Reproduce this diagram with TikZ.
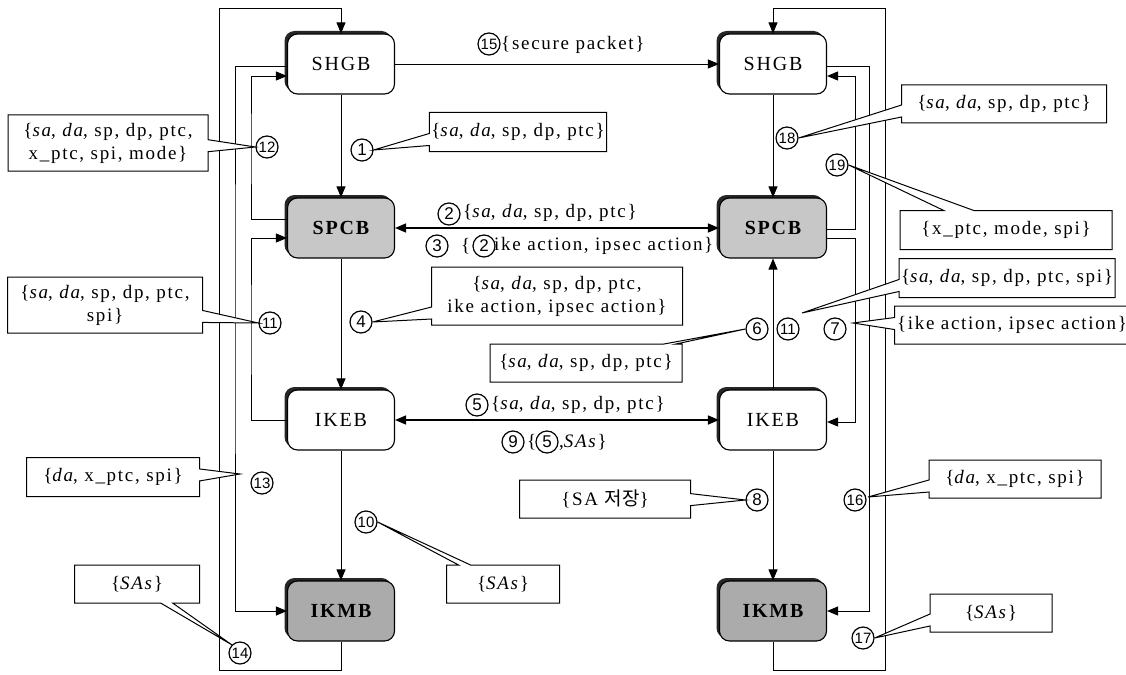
\documentclass[tikz,border=0pt]{standalone}
\usepackage{fontspec}
\setmainfont[LetterSpace=9]{Liberation Serif}
\newfontfamily\numfont{Liberation Sans}
\newfontfamily\krfont{Noto Sans CJK KR}
\usetikzlibrary{arrows.meta,shapes.callouts,shadows}
\newcommand\vsa{\textit{sa}}
\newcommand\vda{\textit{da}}
\newcommand\vSAs{\textit{SAs}}
\tikzset{
  blk/.style={draw, line width=1.1pt, rounded corners=10pt, minimum width=107pt, minimum height=60pt,
    drop shadow={shadow xshift=-3pt, shadow yshift=3pt, fill=black!85, opacity=1}},
  wblk/.style={blk, fill=white, font=\fontsize{20}{22}\selectfont},
  gblk/.style={blk, fill=black!22, font=\fontsize{20}{22}\selectfont\bfseries},
  dblk/.style={blk, fill=black!33, font=\fontsize{20}{22}\selectfont\bfseries},
  arr/.style={-{Triangle[length=11pt,width=9pt]}, line width=0.9pt},
  darr/.style={{Triangle[length=11pt,width=9pt]}-{Triangle[length=11pt,width=9pt]}, line width=1.6pt},
  lbl/.style={font=\fontsize{19}{23}\selectfont, inner sep=1pt},
  cn/.style={circle, draw, line width=1.2pt, inner sep=0pt, minimum size=22pt, font=\numfont\fontsize{17}{17}\selectfont},
  cnn/.style={cn, font=\numfont\fontsize{15}{15}\selectfont},
  co/.style={rectangle callout, draw, line width=1pt, fill=white, font=\fontsize{19}{23}\selectfont,
    inner sep=2pt, callout pointer width=12pt, align=center},
}
\begin{document}
\begin{tikzpicture}[x=1pt,y=-1pt]
\useasboundingbox (0,0) rectangle (1126,674);
\fill[white] (0,0) rectangle (1126,674);

% coordinates for routing
\coordinate (lbot) at (219,670);
\coordinate (ltop) at (219,8);
\coordinate (lm) at (235,300);
\coordinate (li) at (251,150);
\coordinate (li2) at (251,330);
\coordinate (rbot) at (885,670);
\coordinate (rtop) at (885,8);
\coordinate (rm) at (869,300);
\coordinate (ri) at (855,150);
\coordinate (ri2) at (855,330);

% blocks
\node[wblk] (lSHGB) at (341,64) {SHGB};
\node[gblk] (lSPCB) at (341,228) {SPCB};
\node[wblk] (lIKEB) at (341,420) {IKEB};
\node[dblk] (lIKMB) at (341,611) {IKMB};
\node[wblk] (rSHGB) at (773,64) {SHGB};
\node[gblk] (rSPCB) at (773,228) {SPCB};
\node[wblk] (rIKEB) at (773,420) {IKEB};
\node[dblk] (rIKMB) at (773,611) {IKMB};

% main connectors
\draw[arr] (lSHGB) -- (rSHGB);
\draw[darr] (lSPCB) -- (rSPCB);
\draw[darr] (lIKEB) -- (rIKEB);
\draw[arr] (lSHGB.south) -- (lSPCB.north);
\draw[arr] (lSPCB.south) -- (lIKEB.north);
\draw[arr] (lIKEB.south) -- (lIKMB.north);
\draw[arr] (rSHGB.south) -- (rSPCB.north);
\draw[arr] (rIKEB.north) -- (rSPCB.south);
\draw[arr] (rIKEB.south) -- (rIKMB.north);

% left routing
\draw[arr] (lIKMB.south) |- (lbot) -- (ltop) -| (lSHGB.north);
\draw[arr] ([yshift=-2pt]lSHGB.west) -| (lm) |- (lIKMB.west);
\draw[arr] ([yshift=9pt]lSPCB.west) -| (li) |- ([yshift=-12pt]lSHGB.west);
\draw[arr] (lIKEB.west) -| (li2) |- ([yshift=-10pt]lSPCB.west);
% right routing
\draw[arr] (rIKMB.south) |- (rbot) -- (rtop) -| (rSHGB.north);
\draw[arr] ([yshift=-2pt]rSHGB.east) -| (rm) |- (rIKMB.east);
\draw[arr] ([yshift=-1pt]rSPCB.east) -| (ri) |- ([yshift=-12pt]rSHGB.east);
\draw[arr] ([yshift=-10pt]rSPCB.east) -| (ri2) |- ([yshift=-2pt]rIKEB.east);

% inline labels
\node[cnn] (n15) at (489,44) {15};
\node[lbl, anchor=west] (t15) at (500,45) {\{secure packet\}};
\node[cn] (n2) at (449,214) {2};
\node[lbl, anchor=west] (t2) at (462,213) {\{\vsa, \vda, sp, dp, ptc\}};
\node[cn] (n3) at (437,246) {3};
\node[lbl, anchor=west] (t3a) at (460,246) {\{};
\node[cn] (n2b) at (484,246) {2};
\node[lbl, anchor=west] (t3b) at (493,246) {ike action, ipsec action\}};
\node[cn] (n5) at (477,405) {5};
\node[lbl, anchor=west] (t5) at (490,405) {\{\vsa, \vda, sp, dp, ptc\}};
\node[cn] (n9) at (513,442) {9};
\node[lbl, anchor=west] (t9a) at (526,442) {\{};
\node[cn] (n5b) at (547,442) {5};
\node[lbl, anchor=west] (t9b) at (558,442) {,\vSAs\}};

% numbered circles with callouts
\node[cn] (n1) at (362,150) {1};
\node[co, minimum width=171pt, minimum height=39pt, callout absolute pointer={(n1.east)}] (c1) at (518,132) {\{\vsa, \vda, sp, dp, ptc\}};
\node[cn] (n4) at (361,322) {4};
\node[co, minimum width=251pt, minimum height=58pt, callout absolute pointer={(n4.east)}] (c4) at (557,296) {\{\vsa, \vda, sp, dp, ptc,\\ ike action, ipsec action\}};
\node[cnn] (n10) at (366,522) {10};
\node[co, minimum width=113pt, minimum height=38pt, callout absolute pointer={(n10.east)}] (c10) at (503,584) {\{\vSAs\}};
\node[cnn] (n12) at (267,147) {12};
\node[co, minimum width=200pt, minimum height=56pt, callout absolute pointer={(n12.west)}] (c12) at (108,143) {\{\vsa, \vda, sp, dp, ptc,\\ x\_ptc, spi, mode\}};
\node[cnn] (n11) at (270,323) {11};
\node[co, minimum width=195pt, minimum height=56pt, callout absolute pointer={(n11.west)}] (c11) at (105,305) {\{\vsa, \vda, sp, dp, ptc,\\ spi\}};
\node[cnn] (n13) at (262,483) {13};
\coordinate (p13) at (240,474);
\node[co, minimum width=173pt, minimum height=39pt, callout absolute pointer={(p13)}] (c13) at (113,477) {\{\vda, x\_ptc, spi\}};
\node[cnn] (n14) at (240,653) {14};
\node[co, minimum width=125pt, minimum height=38pt, callout absolute pointer={(n14.north west)}] (c14) at (137,584) {\{\vSAs\}};

\node[cnn] (n18) at (787,138) {18};
\node[co, minimum width=205pt, minimum height=38pt, callout absolute pointer={(n18.east)}] (c18) at (1004,104) {\{\vsa, \vda, sp, dp, ptc\}};
\node[cnn] (n19) at (837,165) {19};
\node[co, minimum width=212pt, minimum height=39pt, callout pointer width=30pt, callout absolute pointer={(n19.east)}] (c19) at (1006,230) {\{x\_ptc, mode, spi\}};
\node[cn] (n6) at (757,329) {6};
\node[co, minimum width=192pt, minimum height=38pt, callout absolute pointer={(n6.west)}] (c6) at (586,363) {\{\vsa, \vda, sp, dp, ptc\}};
\node[cnn] (n11r) at (788,329) {11};
\coordinate (p11r) at (802,313);
\node[co, minimum width=214pt, minimum height=39pt, callout absolute pointer={(p11r)}] (c11r) at (1007,278) {\{\vsa, \vda, sp, dp, ptc, spi\}};
\node[cn] (n7) at (835,329) {7};
\coordinate (p7) at (853,323);
\node[co, minimum width=235pt, minimum height=38pt, callout absolute pointer={(p7)}] (c7) at (1012,325) {\{ike action, ipsec action\}};
\node[cn] (n8) at (757,500) {8};
\node[co, minimum width=171pt, minimum height=38pt, callout absolute pointer={(n8.west)}] (c8) at (605,499) {\{SA {\krfont 저장}\}};
\node[cnn] (n16) at (855,500) {16};
\coordinate (p16) at (868,497);
\node[co, minimum width=172pt, minimum height=38pt, callout absolute pointer={(p16)}] (c16) at (1015,479) {\{\vda, x\_ptc, spi\}};
\node[cnn] (n17) at (863,638) {17};
\node[co, minimum width=122pt, minimum height=38pt, callout absolute pointer={(n17.east)}] (c17) at (991,613) {\{\vSAs\}};
\end{tikzpicture}
\end{document}
